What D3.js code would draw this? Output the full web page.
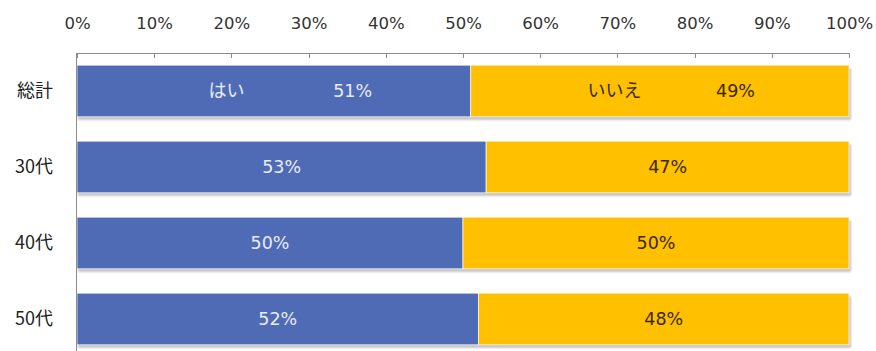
<!DOCTYPE html>
<html><head><meta charset="utf-8">
<script src="https://cdn.jsdelivr.net/npm/d3@7"></script>
<style>body{margin:0;background:#fff}svg{display:block}</style>
</head><body>
<script>
const categories = ["総計", "30代", "40代", "50代"];
const yesValues = [51, 53, 50, 52];
const noValues = [49, 47, 50, 48];
const seriesNames = ["はい", "いいえ"];
const tickValues = [0, 10, 20, 30, 40, 50, 60, 70, 80, 90, 100];

const W = 876, H = 351;
const svg = d3.select("body").append("svg").attr("width", W).attr("height", H);
const defs = svg.append("defs");
const f = defs.append("filter").attr("id","sh").attr("x","-5%").attr("y","-20%").attr("width","110%").attr("height","150%");
f.append("feGaussianBlur").attr("stdDeviation", 1.2);

const x = d3.scaleLinear().domain([0, 100]).range([77, 849]);
const y = d3.scaleBand().domain(categories).range([53, 357]).paddingInner(0.32).paddingOuter(0.16);

const colors = ["#4F6BB5", "#FFC000"];
const textColors = ["#e8ecf8", "#3a2800"];
const latin = "DejaVu Sans, Verdana, sans-serif";
const cjk = "Noto Sans CJK JP, sans-serif";

const rows = categories.map((c, i) => ({cat: c, segs: [
  {s: 0, v: yesValues[i], k: 0},
  {s: yesValues[i], v: noValues[i], k: 1}
]}));

// shadows
svg.append("g").selectAll("rect").data(rows).join("rect")
  .attr("x", x(0) + 1).attr("y", d => y(d.cat) + 3)
  .attr("width", x(100) - x(0) + 1).attr("height", y.bandwidth())
  .attr("fill", "#9a9a9a").attr("opacity", 0.6).attr("filter", "url(#sh)");

const g = svg.append("g");
rows.forEach(r => {
  g.selectAll(null).data(r.segs).join("rect")
    .attr("x", d => x(d.s)).attr("y", y(r.cat))
    .attr("width", d => x(d.s + d.v) - x(d.s)).attr("height", y.bandwidth())
    .attr("fill", d => colors[d.k]).attr("stroke", "#f4f4f4").attr("stroke-width", 0.8);
});

// axes
const axisColor = "#8c8c8c";
const topAxis = svg.append("g").attr("transform", `translate(0,53)`)
  .call(d3.axisTop(x).tickValues(tickValues).tickSize(0).tickFormat(d => d + "%"));
topAxis.select(".domain").remove();
topAxis.selectAll("text").attr("y", -30).attr("dy", "0.35em")
  .attr("font-family", latin).attr("font-size", 16.5).attr("fill", "#333");

svg.append("line").attr("x1", x(0)).attr("x2", x(100)).attr("y1", 53.5).attr("y2", 53.5).attr("stroke", axisColor);
svg.append("g").selectAll("line").data(tickValues).join("line")
  .attr("x1", d => Math.round(x(d)) + 0.5).attr("x2", d => Math.round(x(d)) + 0.5)
  .attr("y1", 53).attr("y2", 58).attr("stroke", axisColor);
svg.append("line").attr("x1", x(0) - 0.5).attr("x2", x(0) - 0.5).attr("y1", 53).attr("y2", H).attr("stroke", axisColor);

// category labels
svg.append("g").selectAll("text").data(categories).join("text")
  .attr("x", 53).attr("y", d => y(d) + y.bandwidth() / 2).attr("dy", "0.35em")
  .attr("text-anchor", "end").attr("font-family", cjk)
  .attr("font-size", 18).attr("fill", "#222").text(d => d);

// value labels
const lab = svg.append("g").attr("font-family", latin).attr("font-size", 17.5);
rows.forEach((r, i) => {
  r.segs.forEach(sg => {
    const cy = y(r.cat) + y.bandwidth() / 2;
    if (i === 0) {
      lab.append("text").attr("x", x(sg.s + sg.v * 0.38)).attr("y", cy).attr("dy", "0.35em")
        .attr("text-anchor", "middle").attr("fill", textColors[sg.k])
        .attr("font-family", cjk).attr("font-size", 18).text(seriesNames[sg.k]);
      lab.append("text").attr("x", x(sg.s + sg.v * 0.70)).attr("y", cy).attr("dy", "0.35em")
        .attr("text-anchor", "middle").attr("fill", textColors[sg.k]).text(sg.v + "%");
    } else {
      lab.append("text").attr("x", x(sg.s + sg.v / 2)).attr("y", cy).attr("dy", "0.35em")
        .attr("text-anchor", "middle").attr("fill", textColors[sg.k]).text(sg.v + "%");
    }
  });
});
</script>
</body></html>
